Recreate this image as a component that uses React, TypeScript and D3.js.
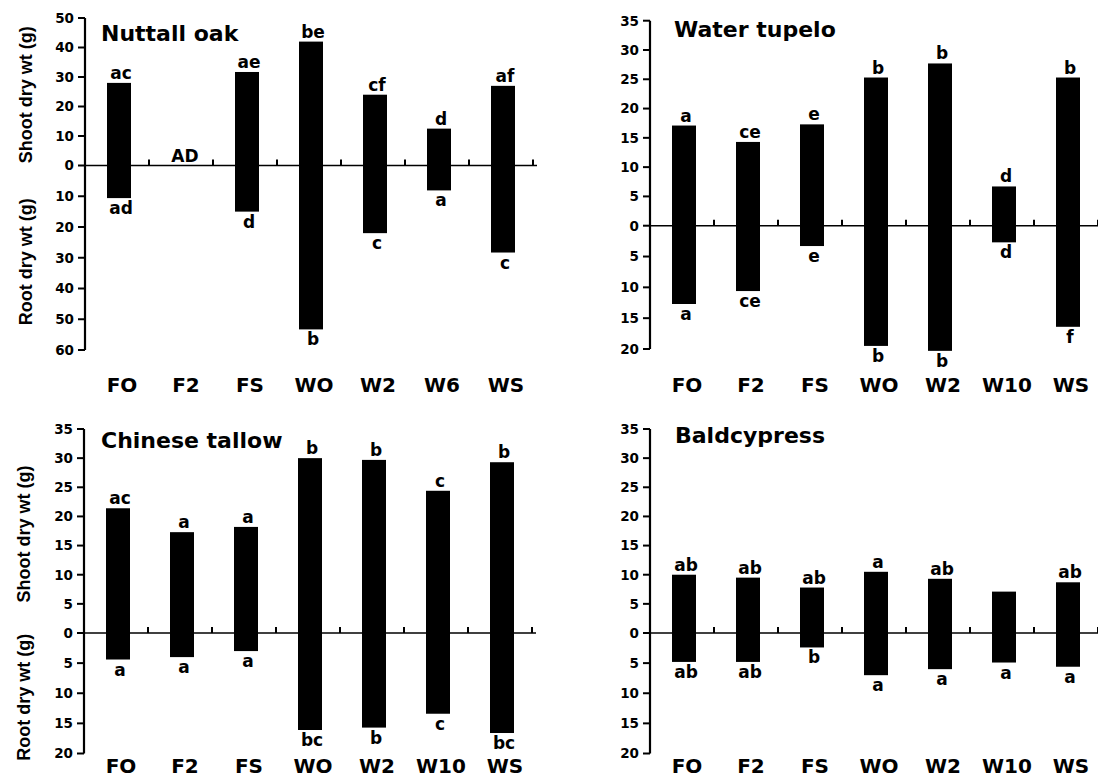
import React from "react";
import * as d3 from "d3";

// ---------- data ----------
const categoriesOak = ["FO", "F2", "FS", "WO", "W2", "W6", "WS"];
const categoriesOther = ["FO", "F2", "FS", "WO", "W2", "W10", "WS"];

const oakShoot = [28, 0, 31.7, 42, 24, 12.5, 27];
const oakRoot = [10.6, 0, 15, 53.3, 22, 8.1, 28.3];
const oakShootLetters = ["ac", "AD", "ae", "be", "cf", "d", "af"];
const oakRootLetters = ["ad", "", "d", "b", "c", "a", "c"];

const tupeloShoot = [17.1, 14.3, 17.3, 25.3, 27.7, 6.7, 25.3];
const tupeloRoot = [12.7, 10.6, 3.3, 19.5, 20.3, 2.7, 16.4];
const tupeloShootLetters = ["a", "ce", "e", "b", "b", "d", "b"];
const tupeloRootLetters = ["a", "ce", "e", "b", "b", "d", "f"];

const tallowShoot = [21.4, 17.3, 18.2, 30.0, 29.7, 24.4, 29.3];
const tallowRoot = [4.4, 4.0, 3.0, 16.1, 15.7, 13.4, 16.6];
const tallowShootLetters = ["ac", "a", "a", "b", "b", "c", "b"];
const tallowRootLetters = ["a", "a", "a", "bc", "b", "c", "bc"];

const cypressShoot = [10, 9.5, 7.8, 10.5, 9.3, 7.1, 8.7];
const cypressRoot = [4.8, 4.8, 2.4, 7.0, 6.0, 4.9, 5.6];
const cypressShootLetters = ["ab", "ab", "ab", "a", "ab", "", "ab"];
const cypressRootLetters = ["ab", "ab", "b", "a", "a", "a", "a"];

const shootTicks50 = [0, 10, 20, 30, 40, 50];
const rootTicks60 = [10, 20, 30, 40, 50, 60];
const shootTicks35 = [0, 5, 10, 15, 20, 25, 30, 35];
const rootTicks20 = [5, 10, 15, 20];

const shootTitle = "Shoot dry wt (g)";
const rootTitle = "Root dry wt (g)";

// ---------- styles ----------
const WIDE = "'DejaVu Sans', Verdana, sans-serif";
const ARIAL = "'Liberation Sans', Arial, sans-serif";

type PanelProps = {
  title: string;
  cats: string[];
  shoot: number[];
  root: number[];
  shootLetters: string[];
  rootLetters: string[];
  shootMax: number;
  rootMax: number;
  shootTicks: number[];
  rootTicks: number[];
  x0: number;
  yTop: number;
  yZero: number;
  yBottom: number;
  titleX: number;
  titleY: number;
  catY: number;
  axisTitleX?: number;
};

function Panel(p: PanelProps) {
  const step = 64;
  const barW = 24;
  const x = d3
    .scaleBand<string>()
    .domain(p.cats)
    .range([p.x0 + 2, p.x0 + 2 + step * p.cats.length])
    .padding(0);
  const yS = d3.scaleLinear().domain([0, p.shootMax]).range([p.yZero, p.yTop]);
  const yR = d3.scaleLinear().domain([0, p.rootMax]).range([p.yZero, p.yBottom]);
  const cx = (c: string) => (x(c) as number) + x.bandwidth() / 2;
  const sepTicks = d3.range(1, p.cats.length + 1).map((i) => p.x0 + i * step);

  return (
    <g>
      {/* bars */}
      {p.cats.map((c, i) => (
        <g key={c}>
          {p.shoot[i] > 0 && (
            <rect
              x={cx(c) - barW / 2}
              y={yS(p.shoot[i])}
              width={barW}
              height={p.yZero - yS(p.shoot[i])}
              fill="#000"
            />
          )}
          {p.root[i] > 0 && (
            <rect
              x={cx(c) - barW / 2}
              y={p.yZero}
              width={barW}
              height={yR(p.root[i]) - p.yZero}
              fill="#000"
            />
          )}
        </g>
      ))}
      {/* zero line */}
      <line
        x1={p.x0}
        x2={p.x0 + step * p.cats.length + 4}
        y1={p.yZero}
        y2={p.yZero}
        stroke="#000"
        strokeWidth={1.6}
      />
      {sepTicks.map((t, i) => (
        <line key={i} x1={t} x2={t} y1={p.yZero} y2={p.yZero - 6} stroke="#000" strokeWidth={2} />
      ))}
      {/* y axis */}
      <line x1={p.x0} x2={p.x0} y1={p.yTop} y2={p.yBottom} stroke="#000" strokeWidth={2.2} />
      {p.shootTicks.map((t) => (
        <g key={"s" + t}>
          <line x1={p.x0 - 7} x2={p.x0} y1={yS(t)} y2={yS(t)} stroke="#000" strokeWidth={2} />
          <text
            x={p.x0 - 11}
            y={yS(t)}
            dy="0.36em"
            textAnchor="end"
            fontFamily={WIDE}
            fontWeight="bold"
            fontSize={13.5}
          >
            {t}
          </text>
        </g>
      ))}
      {p.rootTicks.map((t) => (
        <g key={"r" + t}>
          <line x1={p.x0 - 7} x2={p.x0} y1={yR(t)} y2={yR(t)} stroke="#000" strokeWidth={2} />
          <text
            x={p.x0 - 11}
            y={yR(t)}
            dy="0.36em"
            textAnchor="end"
            fontFamily={WIDE}
            fontWeight="bold"
            fontSize={13.5}
          >
            {t}
          </text>
        </g>
      ))}
      {/* letters */}
      {p.cats.map((c, i) => (
        <g key={"l" + c}>
          {p.shootLetters[i] && (
            <text
              x={cx(c) + 2}
              y={yS(p.shoot[i]) - 4}
              textAnchor="middle"
              fontFamily={WIDE}
              fontWeight="bold"
              fontSize={17}
            >
              {p.shootLetters[i]}
            </text>
          )}
          {p.rootLetters[i] && (
            <text
              x={cx(c) + 2}
              y={yR(p.root[i]) + 16}
              textAnchor="middle"
              fontFamily={WIDE}
              fontWeight="bold"
              fontSize={17}
            >
              {p.rootLetters[i]}
            </text>
          )}
        </g>
      ))}
      {/* category labels */}
      {p.cats.map((c) => (
        <text
          key={"c" + c}
          x={cx(c) + 3}
          y={p.catY}
          textAnchor="middle"
          fontFamily={WIDE}
          fontWeight="bold"
          fontSize={20}
        >
          {c}
        </text>
      ))}
      {/* title */}
      <text x={p.titleX} y={p.titleY} fontFamily={WIDE} fontWeight="bold" fontSize={22}>
        {p.title}
      </text>
      {/* axis titles */}
      {p.axisTitleX !== undefined && (
        <>
          <text
            transform={`translate(${p.axisTitleX},${(p.yTop + p.yZero) / 2 + 3}) rotate(-90)`}
            textAnchor="middle"
            fontFamily={ARIAL}
            fontWeight="bold"
            fontSize={18}
          >
            {shootTitle}
          </text>
          <text
            transform={`translate(${p.axisTitleX},${(p.yZero + p.yBottom) / 2 + 4}) rotate(-90)`}
            textAnchor="middle"
            fontFamily={ARIAL}
            fontWeight="bold"
            fontSize={18}
          >
            {rootTitle}
          </text>
        </>
      )}
    </g>
  );
}

export default function App() {
  return (
    <svg
      width={1098}
      height={779}
      style={{ position: "absolute", left: 0, top: 0, background: "#fff" }}
    >
      <rect width={1098} height={779} fill="#fff" />
      <Panel
        title="Nuttall oak"
        cats={categoriesOak}
        shoot={oakShoot}
        root={oakRoot}
        shootLetters={oakShootLetters}
        rootLetters={oakRootLetters}
        shootMax={50}
        rootMax={60}
        shootTicks={shootTicks50}
        rootTicks={rootTicks60}
        x0={85}
        yTop={18}
        yZero={165.5}
        yBottom={350}
        titleX={101}
        titleY={41}
        catY={392}
        axisTitleX={32}
      />
      <Panel
        title="Water tupelo"
        cats={categoriesOther}
        shoot={tupeloShoot}
        root={tupeloRoot}
        shootLetters={tupeloShootLetters}
        rootLetters={tupeloRootLetters}
        shootMax={35}
        rootMax={20}
        shootTicks={shootTicks35}
        rootTicks={rootTicks20}
        x0={650}
        yTop={20.7}
        yZero={225.7}
        yBottom={349}
        titleX={674}
        titleY={37}
        catY={392}
      />
      <Panel
        title="Chinese tallow"
        cats={categoriesOther}
        shoot={tallowShoot}
        root={tallowRoot}
        shootLetters={tallowShootLetters}
        rootLetters={tallowRootLetters}
        shootMax={35}
        rootMax={20}
        shootTicks={shootTicks35}
        rootTicks={rootTicks20}
        x0={84}
        yTop={429}
        yZero={633}
        yBottom={753.5}
        titleX={101}
        titleY={448}
        catY={773}
        axisTitleX={30}
      />
      <Panel
        title="Baldcypress"
        cats={categoriesOther}
        shoot={cypressShoot}
        root={cypressRoot}
        shootLetters={cypressShootLetters}
        rootLetters={cypressRootLetters}
        shootMax={35}
        rootMax={20}
        shootTicks={shootTicks35}
        rootTicks={rootTicks20}
        x0={650}
        yTop={429}
        yZero={633}
        yBottom={753.5}
        titleX={675}
        titleY={443}
        catY={773}
      />
    </svg>
  );
}
